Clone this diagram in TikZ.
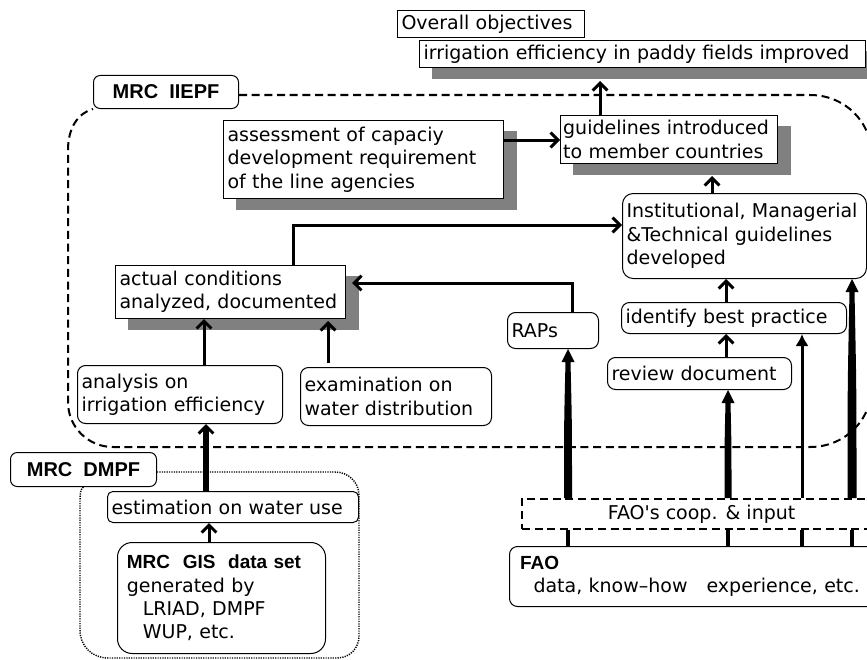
\documentclass[tikz,border=0pt]{standalone}
\usepackage{fontspec}
\setmainfont{DejaVu Sans}
\newfontfamily\tagfont{Liberation Sans}
\usetikzlibrary{arrows.meta,calc}
\pgfdeclarelayer{bg}
\pgfsetlayers{bg,main}

% tapered arrow with filled head: #1 foot, #2 tip, #3 half width of the foot
\newcommand{\wedgeup}[3]{%
  \fill ($(#1)+(-#3,0)$) .. controls ($(#1)!0.5!(#2)+(-#3,0)$) .. ($(#2)+(-2.5,13)$)
    -- ($(#2)+(-6.5,13)$) -- (#2) -- ($(#2)+(6.5,13)$) -- ($(#2)+(2.5,13)$)
    .. controls ($(#1)!0.5!(#2)+(#3,0)$) .. ($(#1)+(#3,0)$) -- cycle;}

\begin{document}
\begin{tikzpicture}[x=0.75pt,y=0.75pt,yscale=-1,xscale=1,
  every node/.style={font=\fontsize{14.25}{17.5}\selectfont},
  sqbox/.style={draw, line width=0.75pt, fill=white, anchor=north west, align=left, inner xsep=3pt, inner ysep=0pt},
  rndbox/.style={sqbox, rounded corners=6pt},
  tagbox/.style={draw, line width=0.75pt, fill=white, rounded corners=5pt, anchor=north west, inner sep=0pt, font=\tagfont\bfseries\fontsize{15}{18}\selectfont},
  coopbox/.style={draw, line width=1.6pt, dash pattern=on 6pt off 3.5pt, anchor=north west, inner sep=0pt},
  arr/.style={line width=2.25pt, -{Straight Barb[length=5.5pt,width=11pt]}},
  farr/.style={line width=2.25pt, -{Latex[length=9pt,width=10pt]}},
  fotick/.style={line width=2.5pt},
  iiepfline/.style={line width=1.5pt, dash pattern=on 6pt off 3.5pt},
  dmpfline/.style={line width=1.1pt, dash pattern=on 0.9pt off 0.9pt}]
%set diagram to 867 x 660
\useasboundingbox (0,0) rectangle (867,660);
\clip (0,0) rectangle (867,660);

% Text Node
\node (overall) [sqbox, text width=134.25pt, minimum height=20.25pt] at (397,10) {Overall objectives};
% Text Node
\node (goal) [sqbox, text width=328.5pt, minimum height=20.25pt] at (419,40) {irrigation efficiency in paddy fields improved};
% Text Node
\node (iiepf) [tagbox, minimum width=108.75pt, minimum height=24.75pt] at (93,75) {MRC~ IIEPF};
% Text Node
\node (assess) [sqbox, text width=204pt, minimum height=58.5pt] at (223,120) {assessment of capaciy\\development requirement\\of the line agencies};
% Text Node
\node (guide) [sqbox, inner xsep=2pt, text width=158.75pt, minimum height=36pt] at (560,115) {guidelines introduced\\to member countries};
% Text Node
\node (instit) [rndbox, rounded corners=8pt, text width=177pt, minimum height=63.75pt] at (622,193) {Institutional, Managerial\\\&Technical guidelines\\developed};
% Text Node
\node (actual) [sqbox, text width=166.5pt, minimum height=39.75pt] at (115,265) {actual conditions\\analyzed, documented};
% Text Node
\node (raps) [rndbox, text width=62.25pt, minimum height=27pt] at (507,312) {RAPs};
% Text Node
\node (best) [rndbox, text width=162.75pt, minimum height=23.25pt] at (621,302) {identify best practice};
% Text Node
\node (review) [rndbox, text width=132pt, minimum height=24pt] at (607,357) {review document};
% Text Node
\node (analysis) [rndbox, text width=147.75pt, minimum height=43.5pt] at (77,365) {analysis on\\irrigation efficiency};
% Text Node
\node (exam) [rndbox, text width=137.25pt, minimum height=43.5pt] at (300,367) {examination on\\water distribution};
% Text Node
\node (dmpf) [tagbox, minimum width=109.5pt, minimum height=25.5pt] at (10,452) {MRC~ DMPF};
% Text Node
\node (est) [rndbox, rounded corners=4pt, text width=182.25pt, minimum height=23.25pt] at (107,491) {estimation on water use};
% Text Node
\node (gis) [rndbox, rounded corners=11pt, text width=150pt, minimum height=83.25pt] at (117,542) {\hspace*{4pt}{\tagfont\bfseries MRC~ GIS~ data set}\\\hspace*{4pt}generated by\\\hspace*{16pt}LRIAD, DMPF\\\hspace*{16pt}WUP, etc.};
% Text Node
\node (coop) [coopbox, minimum width=269.25pt, minimum height=22.5pt] at (521,498) {FAO\textquotesingle s coop. \& input};
% Text Node
\node (fao) [rndbox, text width=272.25pt, minimum height=45pt] at (509,546) {\hspace*{5pt}{\tagfont\bfseries FAO}\\\hspace*{15pt}data, know–how\quad experience, etc.};

%Shape: drop shadows
\begin{pgfonlayer}{bg}
\foreach \nd in {goal,assess,guide,actual}
  \fill[black!50] ($(\nd.south west)+(13,11)$) rectangle ($(\nd.north east)+(13,11)$);
\end{pgfonlayer}

%Shape: MRC IIEPF area
\draw[iiepfline] (iiepf.east |- 0,95) -- (810,95) .. controls (845,95) and (872,122) .. (872,157) -- (872,385) .. controls (872,420) and (845,447) .. (810,447) -- (113,447) .. controls (88,447) and (68,427) .. (68,402) -- (68,150) .. controls (68,128) and (78,113) .. (iiepf.south west);
%Shape: MRC DMPF area
\draw[dmpfline] (dmpf.east |- 0,472) -- (335,472) .. controls (348,472) and (359,482) .. (359,495) -- (359,636) .. controls (359,648) and (350,658) .. (337,658) -- (108,658) .. controls (92,658) and (80,646) .. (80,630) -- (80,500) .. controls (80,493) and (81,488) .. (dmpf.south);

%Straight Lines
\draw[arr] ($(guide.north west)+(40,0)$) -- ($(goal.south west)+(181,13)$);
\draw[arr] ($(assess.north east)+(0,20)$) -- ($(guide.north west)+(0,25)$);
\draw[arr] ($(instit.north west)+(90,0)$) -- ($(guide.south west)+(152,12)$);
\draw[arr] ($(actual.north west)+(178,0)$) |- ($(instit.north west)+(0,32)$);
\draw[arr] ($(raps.north west)+(65,0)$) |- ($(actual.north east)+(6,18)$);
\draw[arr] ($(analysis.north west)+(127,0)$) -- ($(actual.south west)+(89,0)$);
\draw[arr] ($(exam.north west)+(28,-4)$) -- ($(actual.south west)+(213,2)$);
\draw[arr] ($(best.north west)+(105,0)$) -- ($(instit.south west)+(104,0)$);
\draw[arr] ($(review.north west)+(119,0)$) -- ($(best.south west)+(105,0)$);
\draw[arr] ($(gis.north west)+(92,0)$) -- ($(est.south west)+(102,0)$);
\draw[line width=4pt, -{Straight Barb[length=5.5pt,width=11pt,line width=2.25pt]}] ($(est.north west)+(99,0)$) -- ($(analysis.south west)+(129,0)$);

%Straight Lines: FAO inputs
\coordinate (w1) at ($(raps.south west)+(61,0)$);
\coordinate (w2) at ($(review.south west)+(121,0)$);
\coordinate (w3) at ($(best.south west)+(181,0)$);
\coordinate (w4) at ($(instit.south west)+(230,0)$);
\coordinate (w1b) at (coop.north -| w1);
\coordinate (w2b) at (coop.north -| w2);
\coordinate (w4b) at (coop.north -| w4);
\wedgeup{w1b}{w1}{4}
\wedgeup{w2b}{w2}{3.5}
\wedgeup{w4b}{w4}{4.5}
\draw[farr] (coop.north -| w3) -- (w3);
\foreach \w in {w1,w2,w3,w4}
  \draw[fotick] (coop.south -| \w) -- (fao.north -| \w);

\end{tikzpicture}
\end{document}
